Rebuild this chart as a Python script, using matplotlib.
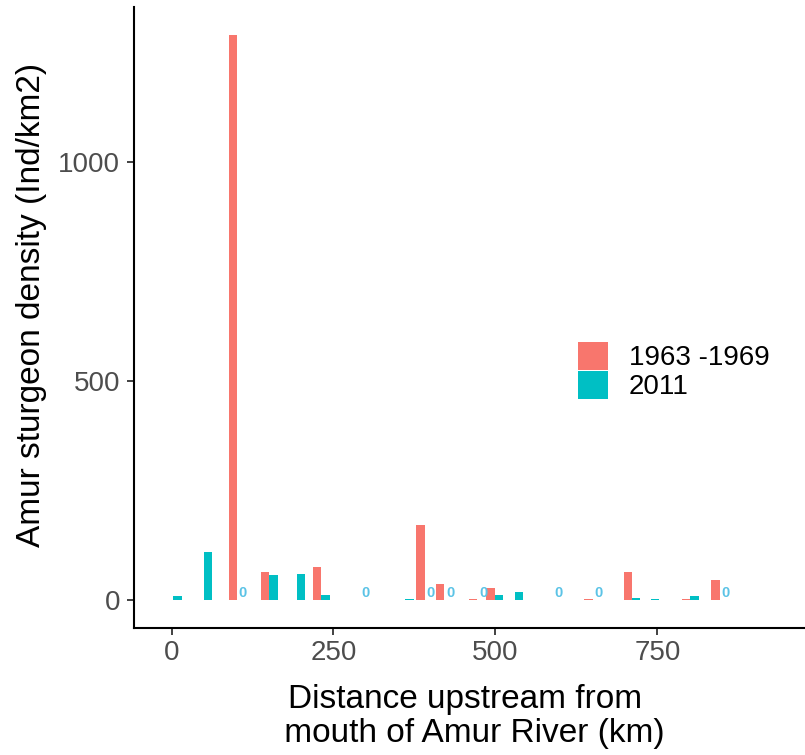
import numpy as np
import matplotlib
matplotlib.use("Agg")
import matplotlib.pyplot as plt

plt.rcParams['font.family'] = ['Liberation Sans', 'DejaVu Sans']

# site positions (km upstream) and densities (Ind/km2)
km_6369 = [101, 151, 231, 391, 421, 472, 499, 650, 711, 801, 846]
dens_6369 = [1290, 63, 76, 170, 36, 2, 28, 2, 63, 2, 46]

km_2011 = [2.5, 50, 151, 193, 231, 361, 499, 530, 711, 740, 801]
dens_2011 = [8, 109, 56, 60, 11.5, 2, 11.5, 18, 5, 2, 8.5]

# sites where 2011 density was zero
km_zero_2011 = [101, 290, 391, 421, 472, 588, 650, 846]

red = '#F8766D'
teal = '#00BFC4'
w = 13

fig = plt.figure(figsize=(8.05, 7.55), dpi=100)
ax = fig.add_axes([134/805, (755-628)/755, (805-134)/805, (628-7)/755])

ax.bar(np.array(km_6369) - w/2, dens_6369, width=w, color=red, label='1963 -1969')
ax.bar(np.array(km_2011) + w/2, dens_2011, width=w, color=teal, label='2011')
for k in km_zero_2011:
    ax.text(k + w/2 + 2.5, 0, '0', color='#5BC3E6', fontsize=10.5, fontweight='bold',
            ha='center', va='bottom')

ax.set_xlim(-58, 978)
ax.set_ylim(-64.5, 1354.5)
ax.set_xticks([0, 250, 500, 750])
ax.set_yticks([0, 500, 1000])
ax.tick_params(labelsize=20, labelcolor='#4D4D4D', color='#333333', length=5, width=1.3)
ax.tick_params(axis='y', pad=5)
for s in ['top', 'right']:
    ax.spines[s].set_visible(False)
for s in ['left', 'bottom']:
    ax.spines[s].set_linewidth(1.5)

ax.set_xlabel('Distance upstream from \n mouth of Amur River (km)', fontsize=24,
              linespacing=1.12, labelpad=13)
ax.set_ylabel('Amur sturgeon density (Ind/km2)', fontsize=24)
ax.yaxis.set_label_coords(-0.13, 0.52)

ax.legend(loc='upper left', bbox_to_anchor=(578/805, 1 - 342/755), bbox_transform=fig.transFigure,
          frameon=False, fontsize=20, handlelength=1.08, handleheight=1.15, labelspacing=0.0,
          handletextpad=0.75, borderpad=0, borderaxespad=0)

fig.savefig('out.png', dpi=100)
